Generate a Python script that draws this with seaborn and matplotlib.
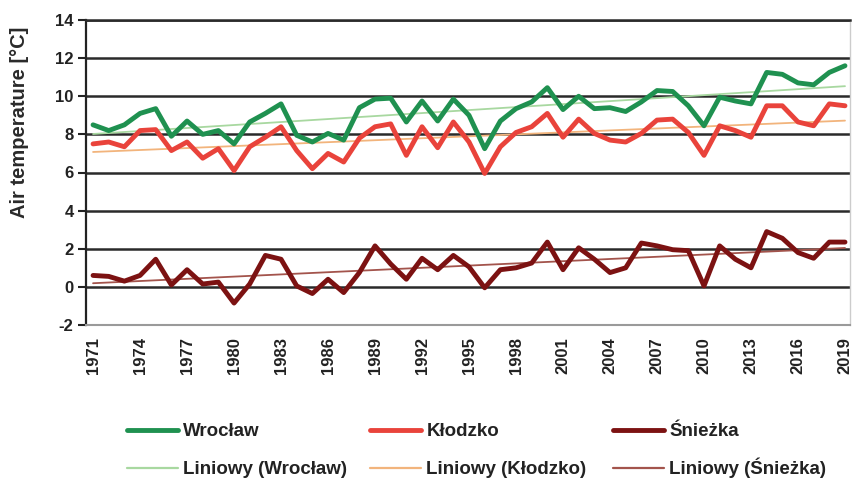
import numpy as np
import pandas as pd
import matplotlib
matplotlib.use("Agg")
import matplotlib.pyplot as plt
from matplotlib.lines import Line2D
import seaborn as sns

years = list(range(1971, 2020))
wroclaw = [8.5, 8.2, 8.5, 9.1, 9.35, 7.9, 8.7, 8.0, 8.2, 7.5,
           8.65, 9.1, 9.6, 7.95, 7.6, 8.05, 7.7, 9.4, 9.85, 9.9,
           8.65, 9.75, 8.7, 9.85, 9.0, 7.25, 8.7, 9.35, 9.7, 10.45,
           9.3, 10.0, 9.35, 9.4, 9.2, 9.7, 10.3, 10.25, 9.5, 8.45,
           9.95, 9.75, 9.6, 11.25, 11.15, 10.7, 10.6, 11.25, 11.6]
klodzko = [7.5, 7.6, 7.35, 8.2, 8.25, 7.15, 7.6, 6.75, 7.25, 6.1,
           7.35, 7.85, 8.4, 7.15, 6.2, 7.0, 6.55, 7.8, 8.4, 8.55,
           6.9, 8.4, 7.3, 8.65, 7.6, 5.95, 7.35, 8.1, 8.4, 9.1,
           7.85, 8.8, 8.05, 7.7, 7.6, 8.05, 8.75, 8.8, 8.1, 6.9,
           8.45, 8.2, 7.85, 9.5, 9.5, 8.65, 8.45, 9.6, 9.5]
sniezka = [0.6, 0.55, 0.3, 0.6, 1.45, 0.1, 0.9, 0.15, 0.25, -0.85,
           0.15, 1.65, 1.45, 0.05, -0.35, 0.4, -0.3, 0.75, 2.15, 1.2,
           0.4, 1.5, 0.9, 1.65, 1.05, -0.05, 0.9, 1.0, 1.25, 2.35,
           0.9, 2.05, 1.45, 0.75, 1.0, 2.3, 2.15, 1.95, 1.9, 0.05,
           2.15, 1.45, 1.0, 2.9, 2.55, 1.8, 1.5, 2.35, 2.35]
series_names = ["Wrocław", "Kłodzko", "Śnieżka"]
trend_names = ["Liniowy (Wrocław)", "Liniowy (Kłodzko)", "Liniowy (Śnieżka)"]
x_tick_years = list(range(1971, 2020, 3))
y_ticks = [-2, 0, 2, 4, 6, 8, 10, 12, 14]

line_colors = ["#1f9150", "#e9433b", "#7c1212"]
trend_colors = ["#a8d8a0", "#f2b47c", "#a3544c"]

df = pd.DataFrame({"year": years * 3,
                   "temp": wroclaw + klodzko + sniezka,
                   "station": sum([[n] * len(years) for n in series_names], [])})

sns.set_theme(style="white")
plt.rcParams["font.family"] = ["Liberation Sans", "DejaVu Sans"]

fig = plt.figure(figsize=(8.55, 4.79), dpi=100)
ax = fig.add_axes([86 / 855, 1 - 325 / 479, (850 - 86) / 855, (325 - 20) / 479])

# trend lines first (drawn under data lines)
for name, col in zip(series_names, trend_colors):
    sub = df[df.station == name]
    sns.regplot(data=sub, x="year", y="temp", scatter=False, ci=None, truncate=True,
                ax=ax, line_kws={"color": col, "lw": 1.3, "zorder": 3})

sns.lineplot(data=df, x="year", y="temp", hue="station", hue_order=series_names,
             palette=line_colors, lw=3.5, ax=ax, legend=False, zorder=4)

ax.set_xlim(1970.55, 2019.32)
ax.set_ylim(-2, 14)
ax.set_yticks(y_ticks)
ax.set_yticklabels([str(v) for v in y_ticks], fontsize=12, fontweight="bold", color="#222222")
ax.set_xticks(x_tick_years)
ax.set_xticklabels([str(v) for v in x_tick_years], rotation=90, fontsize=12,
                   fontweight="bold", color="#222222")
ax.tick_params(axis="y", length=6, width=1.5, color="#222222", pad=3, direction="out", left=True)
ax.tick_params(axis="x", length=0, pad=9)
ax.set_xlabel("")
ax.set_ylabel("")
ax.yaxis.grid(True, color="#2a2a2a", lw=1.8, zorder=1)
ax.set_axisbelow(True)
ax.spines["left"].set_color("#222222")
ax.spines["left"].set_linewidth(1.6)
ax.spines["top"].set_color("#2a2a2a")
ax.spines["top"].set_linewidth(1.8)
ax.spines["bottom"].set_color("#9a9a9a")
ax.spines["bottom"].set_linewidth(1.5)
ax.spines["right"].set_color("#cccccc")
ax.spines["right"].set_linewidth(1.0)

fig.text(20 / 855, 1 - 122 / 479, "Air temperature [°C]", rotation=90, ha="center",
         va="center", fontsize=14.5, fontweight="bold", color="#2a2a2a")

# legends: three columns, each with data line + trend line
col_x = [127, 370, 613]
col_spacing = [1.11, 1.11, 0.95]
for i in range(3):
    handles = [Line2D([], [], color=line_colors[i], lw=3.5),
               Line2D([], [], color=trend_colors[i], lw=1.6)]
    leg = fig.legend(handles, [series_names[i], trend_names[i]], loc="upper left",
                     bbox_to_anchor=(col_x[i] / 855, 1 - 423 / 479), frameon=False,
                     borderpad=0, borderaxespad=0, handlelength=2.7, handletextpad=0.3,
                     labelspacing=col_spacing[i], prop={"size": 13.5, "weight": "bold"})
    for t in leg.get_texts():
        t.set_color("#222222")

fig.savefig("out.png", dpi=100)
